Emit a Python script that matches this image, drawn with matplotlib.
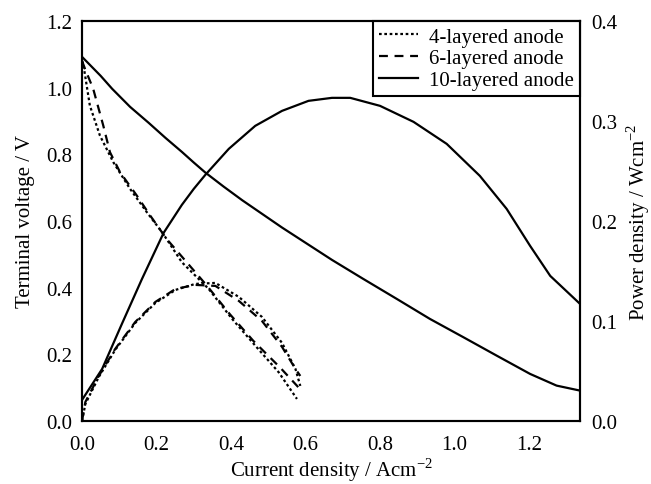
import numpy as np
import matplotlib
matplotlib.use('Agg')
import matplotlib.pyplot as plt
from matplotlib.ticker import FormatStrFormatter

plt.rcParams['font.family'] = ['Liberation Serif', 'DejaVu Serif']
plt.rcParams['mathtext.fontset'] = 'custom'
plt.rcParams['mathtext.rm'] = 'Liberation Serif'
plt.rcParams['font.size'] = 15

# 10-layered anode: voltage and power vs current density
i10_v = [0.0, 0.05, 0.081, 0.129, 0.179, 0.224, 0.268, 0.3, 0.331, 0.38, 0.43, 0.537, 0.671, 0.755,
         0.845, 0.934, 1.024, 1.113, 1.203, 1.274, 1.337]
v10 = [1.092, 1.035, 0.996, 0.942, 0.894, 0.849, 0.807, 0.775, 0.745, 0.703, 0.662, 0.58, 0.483, 0.426,
       0.366, 0.306, 0.251, 0.196, 0.141, 0.106, 0.091]
i10_p = [0.0, 0.054, 0.107, 0.161, 0.219, 0.268, 0.3, 0.331, 0.394, 0.465, 0.537,
         0.608, 0.671, 0.72, 0.8, 0.89, 0.979, 1.068, 1.14, 1.203, 1.257, 1.337]
p10 = [0.021, 0.052, 0.097, 0.142, 0.188, 0.216, 0.232, 0.246, 0.272, 0.295, 0.31,
       0.32, 0.323, 0.323, 0.315, 0.299, 0.277, 0.245, 0.212, 0.175, 0.145, 0.117]

# 4-layered anode
i4_v = [0.0, 0.004, 0.021, 0.048, 0.084, 0.129, 0.174, 0.215, 0.268, 0.34, 0.403,
        0.465, 0.528, 0.577]
v4 = [1.08, 1.066, 0.946, 0.856, 0.776, 0.696, 0.626, 0.566, 0.476, 0.396, 0.306,
      0.226, 0.146, 0.066]
i4_p = [0.0, 0.009, 0.045, 0.089, 0.143, 0.197, 0.251, 0.304, 0.358, 0.421, 0.483,
        0.537, 0.573, 0.586]
p4 = [0.0, 0.017, 0.044, 0.071, 0.098, 0.118, 0.131, 0.137, 0.138, 0.124, 0.104,
      0.078, 0.052, 0.035]

# 6-layered anode
i6_v = [0.0, 0.008, 0.03, 0.057, 0.075, 0.102, 0.147, 0.183, 0.227, 0.281, 0.335,
        0.397, 0.46, 0.532, 0.585]
v6 = [1.08, 1.056, 0.996, 0.886, 0.806, 0.746, 0.676, 0.616, 0.546, 0.476, 0.406,
      0.32, 0.24, 0.16, 0.096]
i6_p = [0.0, 0.009, 0.045, 0.089, 0.143, 0.197, 0.251, 0.304, 0.358, 0.421, 0.483,
        0.537, 0.573, 0.586]
p6 = [0.0, 0.019, 0.045, 0.072, 0.099, 0.119, 0.132, 0.136, 0.135, 0.12, 0.1,
      0.074, 0.052, 0.045]

fig = plt.figure(figsize=(6.51, 4.85), dpi=100)
ax = fig.add_axes([0.126, 0.130, 0.765, 0.825])
ax2 = ax.twinx()

lw = 1.6
dot = (0, (1.2, 1.2))
dash = (0, (4, 3))
l4, = ax.plot(i4_v, v4, color='black', ls=dot, lw=lw)
l6, = ax.plot(i6_v, v6, color='black', ls=dash, lw=lw)
l10, = ax.plot(i10_v, v10, color='black', ls='-', lw=lw)
ax2.plot(i4_p, p4, color='black', ls=dot, lw=lw)
ax2.plot(i6_p, p6, color='black', ls=dash, lw=lw)
ax2.plot(i10_p, p10, color='black', ls='-', lw=lw)

ax.set_xlim(0, 1.337)
ax.set_ylim(0, 1.2)
ax2.set_ylim(0, 0.4)
ax.set_xticks([0.0, 0.2, 0.4, 0.6, 0.8, 1.0, 1.2])
ax.set_yticks([0.0, 0.2, 0.4, 0.6, 0.8, 1.0, 1.2])
ax2.set_yticks([0.0, 0.1, 0.2, 0.3, 0.4])
ax.xaxis.set_major_formatter(FormatStrFormatter('%.1f'))
ax.yaxis.set_major_formatter(FormatStrFormatter('%.1f'))
ax2.yaxis.set_major_formatter(FormatStrFormatter('%.1f'))
ax.tick_params(axis='x', length=0, pad=10)
ax.tick_params(axis='y', length=0, pad=7)
ax2.tick_params(length=0, pad=8)
for a in (ax, ax2):
    for s in a.spines.values():
        s.set_linewidth(1.5)

ax.set_xlabel('Current density / Acm$^{\\mathrm{-2}}$', labelpad=1)
ax.set_ylabel('Terminal voltage / V', labelpad=8)
ax2.set_ylabel('Power density / Wcm$^{\\mathrm{-2}}$', labelpad=5)

leg = ax.legend([l4, l6, l10], ['4-layered anode', '6-layered anode', '10-layered anode'],
                loc='upper right', borderaxespad=0, fancybox=False, framealpha=1,
                edgecolor='black', handlelength=1.9, handletextpad=0.5,
                labelspacing=0.1, borderpad=0.3)
leg.get_frame().set_linewidth(1.5)

fig.savefig('out.png', dpi=100)
